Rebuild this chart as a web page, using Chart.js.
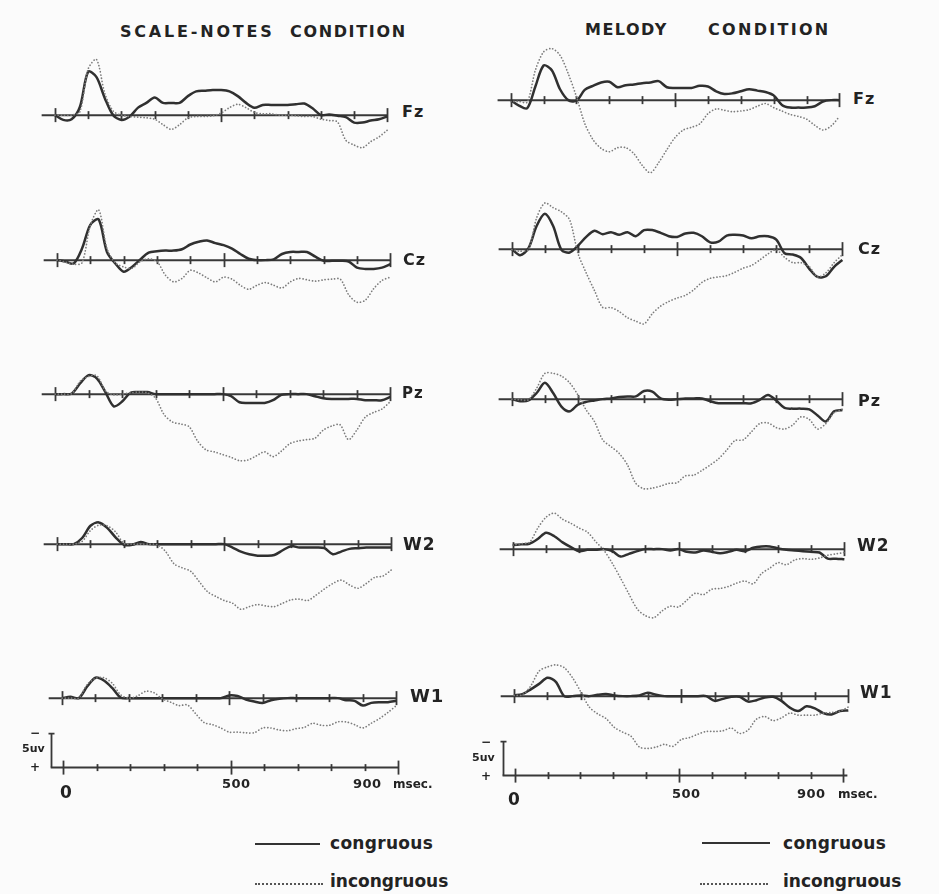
<!DOCTYPE html>
<html>
<head>
<meta charset="utf-8">
<script src="https://cdn.jsdelivr.net/npm/chart.js@4.4.1/dist/chart.umd.min.js"></script>
<style>
  html, body { margin: 0; padding: 0; background: #fbfbfb; }
  #page { position: relative; width: 939px; height: 894px; overflow: hidden;
          font-family: "DejaVu Sans", "Liberation Sans", Arial, sans-serif; font-weight: bold; color: #232323; }
  #page canvas { position: absolute; }
  .txt { position: absolute; white-space: pre; line-height: 1; }
  .key { position: absolute; height: 0; }
</style>
</head>
<body>
<div id="page"></div>
<script>
// ---- time base (ms after stimulus onset) ----
const msec = [0,25,50,75,100,125,150,175,200,225,250,275,300,325,350,375,400,425,450,475,
              500,525,550,575,600,625,650,675,700,725,750,775,800,825,850,875,900,925,950,975,1000];

// ---- grand-average amplitudes in microvolts (negative = up) ----
// Scale-notes condition
const scaleFzCong   = [0,0.7,0.6,-1.2,-6.4,-5.6,-2.5,0,0.7,0.2,-1.1,-1.8,-2.6,-1.8,-1.8,-1.8,-2.8,-3.5,-3.6,-3.7,-3.7,-3.5,-2.8,-1.8,-1.1,-1.5,-1.5,-1.5,-1.5,-1.6,-1.7,-1.0,0,-0.1,0.1,0.3,1.1,1.1,0.8,0.6,0.2];
const scaleFzIncong = [0,0,0,-0.5,-6.8,-8.2,-3.2,-0.6,0,0.2,0.3,0.4,0.6,1.4,2.1,1.4,0.4,0.2,0.2,0.1,-0.3,-1.1,-1.6,-1.1,-0.4,-0.2,-0.2,0,0,0.1,0.2,0.2,0.6,0.8,1.0,3.7,4.4,4.8,3.9,3.2,2.2];
const scaleCzCong   = [0,0.2,0.5,-1.7,-5.2,-6.0,-1.2,0.5,1.7,1.0,-0.1,-1.1,-1.3,-1.4,-1.4,-1.6,-2.3,-2.7,-2.9,-2.5,-2.2,-1.7,-0.9,-0.2,0,0,-0.1,-0.9,-1.2,-1.2,-1.2,-0.5,0.1,0.1,0.1,0.2,1.1,1.3,1.3,1.1,0.6];
const scaleCzIncong = [0,0.3,0.6,0.4,-5.1,-7.4,-1.7,0.4,1.0,1.2,0.2,-0.2,0.2,2.2,3.2,2.7,1.5,1.9,2.6,3.2,2.5,2.8,3.7,4.3,3.7,3.3,3.7,4.1,3.2,2.7,2.9,3.1,2.9,2.8,2.8,5.1,6.2,5.9,4.2,3.0,2.5];
const scalePzCong   = [0,0,-0.1,-1.6,-2.8,-2.3,-0.3,1.8,1.1,-0.2,-0.3,-0.3,0,0,0,0,0,0,0,0,0,0.3,1.2,1.3,1.3,1.3,0.9,0.1,0,0,0,0.3,0.6,0.7,0.7,0.7,0.7,0.9,0.9,0.9,0.4];
const scalePzIncong = [0,0,-0.1,-1.9,-2.6,-2.7,-0.5,0.1,0,-0.2,-0.3,-0.2,0.6,3.0,4.1,4.4,4.8,6.9,8.2,8.5,8.9,9.3,9.8,9.7,9.1,8.5,9.2,8.4,7.3,6.9,6.7,6.5,5.3,4.7,4.5,6.7,5.3,3.4,2.7,2.2,1.1];
const scaleW2Cong   = [0,0,0,-0.9,-2.7,-3.2,-2.4,-1.0,0.1,0.1,-0.3,0,0,0,0,0,0,0,0,0,0,0.5,1.1,1.5,1.7,1.7,1.6,0.9,0.3,0.5,0.5,0.5,0.6,1.5,1.1,0.7,0.6,0.5,0.5,0.5,0.5];
const scaleW2Incong = [0,0,0,-0.4,-2.0,-2.8,-2.7,-1.8,-0.1,0,0,0,0.1,1.1,2.9,3.5,4.0,5.5,7.0,7.7,8.3,8.7,9.6,9.2,8.9,9.1,9.2,8.7,8.2,8.1,8.3,7.5,6.6,5.8,5.3,6.0,6.5,5.8,4.9,4.7,3.8];
const scaleW1Cong   = [0,-0.2,0,-1.7,-3.0,-2.6,-1.5,-0.1,0,0,0,0,0,0,0,0,0,0,0,0,-0.4,-0.3,0.2,0.5,0.7,0.3,0.1,0,0,0,0,0,0,0,0.3,0.4,1.1,0.7,0.6,0.6,0.4];
const scaleW1Incong = [0,0,0,-2.0,-2.9,-3.0,-2.2,-0.5,0,-0.3,-1.0,-0.8,0.1,0.6,1.1,1.0,2.3,3.6,3.9,4.4,5.0,5.0,5.1,5.1,4.4,4.4,4.7,4.8,4.5,4.3,3.7,4.0,4.0,3.5,3.5,3.9,4.4,3.7,3.0,2.1,1.1];

// Melody condition
const melFzCong   = [0,0.8,1.2,-2.0,-5.1,-4.4,-1.6,0,0.1,-1.5,-2.1,-2.6,-2.7,-1.9,-2.2,-2.3,-2.5,-2.6,-2.8,-1.9,-1.8,-1.8,-1.8,-2.1,-2.0,-1.3,-0.9,-1.0,-1.3,-1.6,-1.4,-1.2,-0.7,0.7,1.1,1.1,1.1,0.9,0.2,0,0];
const melFzIncong = [0.2,0.2,0.3,-4.4,-7.1,-7.6,-6.6,-3.9,-0.5,3.4,5.8,7.1,7.6,7.0,7.0,7.9,9.6,10.7,9.2,7.3,5.5,4.4,4.0,3.5,2.0,1.3,1.5,1.7,1.6,1.4,0.9,0.5,1.1,1.6,2.1,2.4,2.8,3.7,4.4,3.8,2.4];
const melCzCong   = [0,0.9,-0.1,-3.4,-5.2,-3.4,0.1,0.5,-0.5,-1.8,-2.7,-2.2,-2.5,-2.1,-2.5,-1.9,-2.8,-2.8,-2.4,-1.9,-1.8,-2.3,-2.4,-1.9,-1.0,-1.1,-2.0,-2.1,-2.0,-1.6,-1.9,-1.9,-1.4,0.6,0.8,1.3,2.9,4.1,4.0,2.6,1.6];
const melCzIncong = [0.1,0.3,0.1,-4.6,-6.8,-6.1,-5.5,-4.3,0.6,3.5,6.1,8.6,8.6,9.2,10.1,10.6,11.0,9.5,8.4,7.7,7.2,6.8,6.0,4.9,4.3,4.1,3.9,3.4,2.8,2.4,1.6,0.7,0.1,1.2,2.0,2.0,2.6,4.1,3.5,2.0,0.8];
const melPzCong   = [0,0.3,0.2,-0.9,-2.4,-0.9,1.1,1.8,0.8,0.4,0.2,0,-0.1,-0.3,-0.4,-0.4,-1.2,-1.1,-0.1,0.1,0,-0.1,-0.1,-0.1,0.3,0.6,0.6,0.6,0.6,0.6,0.1,-0.6,0.2,1.3,1.4,1.4,1.5,2.4,3.3,1.8,1.6];
const melPzIncong = [0,0.1,0.1,-1.6,-3.8,-3.8,-3.4,-2.4,-0.6,1.6,3.3,6.0,7.0,8.0,9.7,12.4,13.2,13.1,12.8,12.4,12.3,11.3,11.2,10.5,9.7,8.8,7.5,6.1,6.0,4.8,3.6,3.5,4.2,4.4,3.8,2.6,3.0,4.4,3.6,2.0,1.5];
const melW2Cong   = [-0.6,-0.7,-0.8,-1.5,-2.4,-1.9,-1.0,-0.3,0.3,0.1,0.1,0,0.3,1.1,0.7,0.3,0,0,0,0.2,0,0.4,0.5,0.2,0.4,0.6,0.4,0.1,0.3,-0.2,-0.4,-0.4,-0.1,0.1,0.2,0.3,0.4,0.5,1.4,1.4,1.5];
const melW2Incong = [-0.6,-0.8,-1.0,-3.1,-4.7,-5.3,-4.4,-3.8,-3.1,-2.5,-1.1,0.2,2.1,4.3,6.6,8.8,9.8,10.1,9.1,8.4,8.5,7.5,6.5,6.7,5.9,5.8,5.5,5.0,4.7,5.1,3.6,2.8,2.0,2.3,1.6,1.4,1.5,1.3,0.9,0.7,0.5];
const melW1Cong   = [-0.1,-0.3,-1.0,-1.8,-2.7,-2.1,0,0,-0.1,0,-0.2,-0.3,-0.1,0,0,-0.1,-0.5,-0.2,0,0,0,0,0,0,0.7,0.4,0.1,0.1,0.8,0.6,0.2,0.1,0.7,1.7,2.2,1.5,1.8,2.5,2.7,2.2,2.1];
const melW1Incong = [-0.1,-0.2,-1.5,-3.7,-4.3,-4.6,-4.2,-2.7,-0.6,1.6,2.6,3.3,4.6,5.3,5.9,7.5,7.7,7.5,7.1,7.4,6.4,6.1,5.6,5.2,5.2,5.1,4.7,5.5,5.0,3.4,3.0,3.6,3.2,2.5,2.8,2.8,2.8,2.5,2.4,2.2,1.6];

// ---- text ----
const electrodes = ['Fz', 'Cz', 'Pz', 'W2', 'W1'];
const timeLabels = ['0', '500', '900'];
const timeUnit = 'msec.';
const ampLabel = '5uv';
const seriesNames = ['congruous', 'incongruous'];

// ---- geometry ----
const PX_PER_UV = 6.8;            // 5 uV calibration bar = 34 px
const T_MIN = -60, T_MAX = 1020;  // horizontal range of every canvas (ms)
const V_MIN = -9, V_MAX = 15;     // vertical range of every trace canvas (uV, reversed)

// x of 0 ms, x of 1000 ms, y of the 0 uV baseline, label position
const columns = [
  {
    series: [[scaleFzCong, scaleFzIncong], [scaleCzCong, scaleCzIncong], [scalePzCong, scalePzIncong],
             [scaleW2Cong, scaleW2Incong], [scaleW1Cong, scaleW1Incong]],
    boxes: [
      { x0: 55.0, x1: 387.0, y0: 115.0, lx: 402, lb: 117, ls: 16 },
      { x0: 56.7, x1: 390.0, y0: 260.0, lx: 403, lb: 265, ls: 16 },
      { x0: 55.0, x1: 390.0, y0: 394.3, lx: 402, lb: 399, ls: 15 },
      { x0: 56.7, x1: 391.7, y0: 544.3, lx: 403, lb: 550, ls: 17 },
      { x0: 62.3, x1: 396.7, y0: 697.7, lx: 410, lb: 702, ls: 18 }
    ],
    time: { x0: 63.3, x1: 398.0, y0: 767.3, end: 1000,
            labels: [[60, 798, 17], [222, 788, 13], [353, 788, 13]], unit: [393, 788],
            minus: [30, 737], amp: [22, 752], plus: [30, 771] },
    title: [['SCALE-NOTES', 120, 37, 2.8], ['CONDITION', 290, 37, 1.65]],
    legend: { solid: [255, 320, 844], dotted: [255, 323, 884], text: [330, 849, 887] }
  },
  {
    series: [[melFzCong, melFzIncong], [melCzCong, melCzIncong], [melPzCong, melPzIncong],
             [melW2Cong, melW2Incong], [melW1Cong, melW1Incong]],
    boxes: [
      { x0: 510.7, x1: 839.0, y0: 100.0, lx: 853, lb: 104, ls: 16 },
      { x0: 511.7, x1: 842.7, y0: 249.3, lx: 858, lb: 254, ls: 16 },
      { x0: 511.7, x1: 842.7, y0: 399.3, lx: 858, lb: 406, ls: 16 },
      { x0: 512.7, x1: 844.3, y0: 549.3, lx: 857, lb: 551, ls: 17 },
      { x0: 514.3, x1: 848.3, y0: 696.0, lx: 860, lb: 698, ls: 17 }
    ],
    time: { x0: 514.3, x1: 843.0, y0: 776.0, end: 1012,
            labels: [[508, 805, 17], [672, 798, 13], [797, 798, 13]], unit: [838, 798],
            minus: [481, 746], amp: [472, 761], plus: [481, 780] },
    title: [['MELODY', 585, 35, 1.5], ['CONDITION', 708, 35, 2.3]],
    legend: { solid: [702, 770, 843], dotted: [700, 768, 884], text: [783, 849, 887] }
  }
];

const page = document.getElementById('page');

function addText(str, left, baseline, size, spacing) {
  const d = document.createElement('div');
  d.className = 'txt';
  d.textContent = str;
  d.style.left = left + 'px';
  d.style.top = (baseline - 0.846 * size).toFixed(1) + 'px';
  d.style.fontSize = size + 'px';
  d.style.letterSpacing = (spacing || 0) + 'px';
  page.appendChild(d);
}

// Baseline with millisecond ticks (every 100 ms, longer at 0/500/1000)
const baselinePlugin = {
  id: 'baseline',
  beforeDatasetsDraw(chart, args, opts) {
    const { ctx, scales: { x, y } } = chart;
    const yz = y.getPixelForValue(0);
    ctx.save();
    ctx.strokeStyle = '#383838';
    ctx.lineWidth = 2;
    ctx.lineCap = 'butt';
    ctx.beginPath();
    ctx.moveTo(x.getPixelForValue(opts.from), yz);
    ctx.lineTo(x.getPixelForValue(opts.to), yz);
    ctx.stroke();
    ctx.lineWidth = 1.8;
    for (let t = 0; t <= 1000; t += 100) {
      const big = (t === 0 || t === 500 || t === 1000);
      const h = big ? opts.big : opts.small;
      const px = Math.round(x.getPixelForValue(t)) + 0.5;
      ctx.beginPath();
      ctx.moveTo(px, yz - h);
      ctx.lineTo(px, yz + h);
      ctx.stroke();
    }
    if (opts.bar) {
      // 5 uV calibration bar, negative up
      const bx = Math.round(x.getPixelForValue(opts.bar)) + 0.5;
      const top = y.getPixelForValue(-5);
      ctx.lineWidth = 1.8;
      ctx.beginPath();
      ctx.moveTo(bx, yz);
      ctx.lineTo(bx, top);
      ctx.moveTo(bx - 3, top);
      ctx.lineTo(bx + 3, top);
      ctx.stroke();
    }
    ctx.restore();
  }
};

function placeCanvas(x0, x1, y0, vMin, vMax) {
  const pxPerMs = (x1 - x0) / 1000;
  const cv = document.createElement('canvas');
  const left = Math.round(x0 + T_MIN * pxPerMs);
  const right = Math.round(x0 + T_MAX * pxPerMs);
  const top = Math.round(y0 + vMin * PX_PER_UV);
  const bottom = Math.round(y0 + vMax * PX_PER_UV);
  cv.width = right - left;
  cv.height = bottom - top;
  cv.style.left = left + 'px';
  cv.style.top = top + 'px';
  cv.style.width = cv.width + 'px';
  cv.style.height = cv.height + 'px';
  page.appendChild(cv);
  return cv;
}

function baseOptions(vMin, vMax, axisOpts) {
  return {
    responsive: false,
    animation: false,
    devicePixelRatio: 1,
    events: [],
    layout: { padding: 0 },
    plugins: { legend: { display: false }, tooltip: { enabled: false }, baseline: axisOpts },
    scales: {
      x: { type: 'linear', min: T_MIN, max: T_MAX, display: false },
      y: { type: 'linear', min: vMin, max: vMax, reverse: true, display: false }
    }
  };
}

const toPoints = vals => msec.map((t, i) => ({ x: t, y: vals[i] }));

columns.forEach(col => {
  // traces
  col.boxes.forEach((b, i) => {
    const [cong, incong] = col.series[i];
    const cv = placeCanvas(b.x0, b.x1, b.y0, V_MIN, V_MAX);
    new Chart(cv, {
      type: 'line',
      data: {
        datasets: [
          { label: seriesNames[1], data: toPoints(incong), borderColor: '#7c7c7c', borderWidth: 1.7,
            borderDash: [0.1, 3.1], borderCapStyle: 'round', pointRadius: 0, tension: 0.3, fill: false },
          { label: seriesNames[0], data: toPoints(cong), borderColor: '#303030', borderWidth: 2.5,
            pointRadius: 0, tension: 0.3, fill: false, borderJoinStyle: 'round' }
        ]
      },
      options: baseOptions(V_MIN, V_MAX, { from: -40, to: 1000, big: 7, small: 4 }),
      plugins: [baselinePlugin]
    });
    addText(electrodes[i], b.lx, b.lb, b.ls, 1);
  });

  // time axis with calibration bar
  const t = col.time;
  const cvT = placeCanvas(t.x0, t.x1, t.y0, -7, 3);
  new Chart(cvT, {
    type: 'line',
    data: { datasets: [] },
    options: baseOptions(-7, 3, { from: -37, to: t.end, big: 7, small: 3.5, bar: -37 }),
    plugins: [baselinePlugin]
  });
  timeLabels.forEach((s, k) => addText(s, t.labels[k][0], t.labels[k][1], t.labels[k][2], 0.5));
  addText(timeUnit, t.unit[0], t.unit[1], 12, 0);
  addText('\u2212', t.minus[0], t.minus[1], 12, 0);
  addText(ampLabel, t.amp[0], t.amp[1], 11, 0);
  addText('+', t.plus[0], t.plus[1], 12, 0);

  // condition title
  col.title.forEach(([s, x, bl, sp]) => addText(s, x, bl, 16, sp));

  // key
  const L = col.legend;
  const solid = document.createElement('div');
  solid.className = 'key';
  solid.style.cssText = `left:${L.solid[0]}px;top:${L.solid[2] - 1}px;width:${L.solid[1] - L.solid[0]}px;border-top:2px solid #333;`;
  page.appendChild(solid);
  const dotted = document.createElement('div');
  dotted.className = 'key';
  dotted.style.cssText = `left:${L.dotted[0]}px;top:${L.dotted[2] - 1}px;width:${L.dotted[1] - L.dotted[0]}px;border-top:2px dotted #555;`;
  page.appendChild(dotted);
  addText(seriesNames[0], L.text[0], L.text[1], 17, 0.3);
  addText(seriesNames[1], L.text[0], L.text[2], 17, 0);
});
</script>
</body>
</html>
